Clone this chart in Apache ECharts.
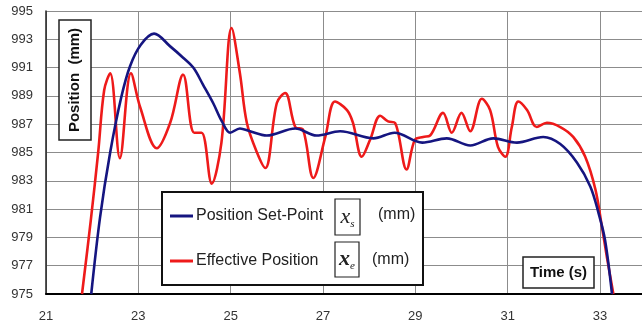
<!DOCTYPE html>
<html>
<head>
<meta charset="utf-8">
<script src="https://cdn.jsdelivr.net/npm/echarts@6/dist/echarts.min.js"></script>
<style>
html,body{margin:0;padding:0;background:#fff;}
#c{width:642px;height:326px;}
</style>
</head>
<body>
<div id="c"></div>
<script>
// Time (s) and position (mm) values
const setTime = [21.98,22.17,22.39,22.63,22.82,23.05,23.34,23.69,23.97,24.19,24.40,24.62,24.81,24.99,25.20,25.42,25.78,26.40,26.86,27.37,28.09,28.55,29.15,29.68,30.19,30.69,31.20,31.77,32.14,32.50,32.79,32.97,33.11,33.26];
const setPos  = [975,980.4,985.0,988.9,991.1,992.6,993.4,992.5,991.7,991.0,989.8,988.5,987.2,986.4,986.7,986.5,986.2,986.7,986.2,986.5,986.0,986.4,985.7,986.0,985.5,986.0,985.7,986.1,985.6,984.3,982.6,980.7,978.8,975];
const effTime = [21.78,21.97,22.13,22.26,22.39,22.60,22.84,23.04,23.40,23.69,23.97,24.21,24.37,24.59,24.80,25.02,25.20,25.35,25.57,25.75,26.00,26.18,26.40,26.57,26.79,27.05,27.26,27.52,27.65,27.84,28.02,28.24,28.41,28.56,28.81,28.99,29.17,29.32,29.60,29.79,30.00,30.19,30.44,30.62,30.79,30.95,31.09,31.23,31.42,31.63,31.85,32.14,32.42,32.68,32.90,33.04,33.15,33.29];
const effPos  = [975,980.2,985.0,989.4,990.6,984.6,990.6,988.2,985.3,987.1,990.5,986.4,986.4,982.8,985.7,993.8,990.6,987.1,985.0,983.9,988.5,989.2,986.8,986.6,983.2,986.1,988.6,988.0,987.1,984.7,985.9,987.6,987.2,987.1,983.8,985.9,986.1,986.2,987.8,986.4,987.8,986.5,988.8,988.0,985.4,984.7,986.8,988.6,988.0,986.8,987.1,986.8,986.1,984.7,982.4,979.8,977.6,975];
const seriesNames = ['Position Set-Point', 'Effective Position'];
const xTitle = 'Time (s)';
const yTitle = 'Position  (mm)';
const unitText = '(mm)';

const zip = (a, b) => a.map((v, i) => [v, b[i]]);
const chart = echarts.init(document.getElementById('c'), null, {renderer: 'canvas'});
const font = "'Liberation Sans', Arial, sans-serif";
chart.setOption({
  animation: false,
  grid: {left: 46, top: 11, right: 0, bottom: 32, containLabel: false},
  xAxis: {
    type: 'value', min: 21, max: 33.91, interval: 2,
    axisLine: {show: true, lineStyle: {color: '#000', width: 2}},
    axisTick: {show: false},
    axisLabel: {color: '#333', fontSize: 13, fontFamily: font, margin: 16, showMaxLabel: false},
    splitLine: {show: true, lineStyle: {color: '#8c8c8c', width: 1}}
  },
  yAxis: {
    type: 'value', min: 975, max: 995, interval: 2,
    axisLine: {show: true, lineStyle: {color: '#222', width: 1.5}},
    axisTick: {show: false},
    axisLabel: {color: '#333', fontSize: 13, fontFamily: font, margin: 13},
    splitLine: {show: true, lineStyle: {color: '#8c8c8c', width: 1}}
  },
  legend: {
    show: true, orient: 'vertical', left: 170, top: 208, z: 30, padding: 0,
    itemWidth: 23, itemHeight: 3, itemGap: 29, icon: 'rect',
    textStyle: {fontSize: 16, fontFamily: font, color: '#222', padding: [0,0,0,-2]},
    data: seriesNames
  },
  series: [
    {name: seriesNames[0], type: 'line', data: zip(setTime, setPos), smooth: 0.35, showSymbol: false,
     lineStyle: {color: '#151580', width: 2.6}, itemStyle: {color: '#151580'}, z: 3},
    {name: seriesNames[1], type: 'line', data: zip(effTime, effPos), smooth: 0.35, showSymbol: false,
     lineStyle: {color: '#ee1a1a', width: 2.6}, itemStyle: {color: '#ee1a1a'}, z: 2}
  ],
  graphic: [
    {type: 'rect', z: 10, shape: {x: 59, y: 20, width: 32, height: 120},
     style: {fill: '#fff', stroke: '#222', lineWidth: 1.5}},
    {type: 'text', z: 11, x: 75, y: 80, rotation: Math.PI / 2,
     style: {text: yTitle, fontSize: 15, fontWeight: 'bold', fontFamily: font, fill: '#111',
             align: 'center', verticalAlign: 'middle'}},
    {type: 'rect', z: 10, shape: {x: 523, y: 257, width: 71, height: 31},
     style: {fill: '#fff', stroke: '#222', lineWidth: 1.5}},
    {type: 'text', z: 11, x: 558.5, y: 272.5,
     style: {text: xTitle, fontSize: 15, fontWeight: 'bold', fontFamily: font, fill: '#111',
             align: 'center', verticalAlign: 'middle'}},
    {type: 'rect', z: 5, shape: {x: 162, y: 192, width: 261, height: 93},
     style: {fill: '#fff', stroke: '#111', lineWidth: 2}},
    {type: 'rect', z: 11, shape: {x: 335, y: 199, width: 25, height: 36},
     style: {fill: '#fff', stroke: '#222', lineWidth: 1.2}},
    {type: 'text', z: 12, x: 347.5, y: 217,
     style: {text: '{a|x}{b|s}', align: 'center', verticalAlign: 'middle',
       rich: {a: {fontFamily: "'Liberation Serif', serif", fontStyle: 'italic', fontSize: 22, fill: '#222'},
              b: {fontFamily: "'Liberation Serif', serif", fontStyle: 'italic', fontSize: 11, fill: '#222', padding: [14,0,0,0]}}}},
    {type: 'rect', z: 11, shape: {x: 335, y: 242, width: 24, height: 35},
     style: {fill: '#fff', stroke: '#222', lineWidth: 1.2}},
    {type: 'text', z: 12, x: 347, y: 259.5,
     style: {text: '{a|x}{b|e}', align: 'center', verticalAlign: 'middle',
       rich: {a: {fontFamily: "'Liberation Serif', serif", fontStyle: 'italic', fontWeight: 'bold', fontSize: 22, fill: '#222'},
              b: {fontFamily: "'Liberation Serif', serif", fontStyle: 'italic', fontSize: 11, fill: '#222', padding: [14,0,0,0]}}}},
    {type: 'text', z: 12, x: 378, y: 215,
     style: {text: unitText, fontSize: 16, fontFamily: font, fill: '#222', verticalAlign: 'middle'}},
    {type: 'text', z: 12, x: 372, y: 260,
     style: {text: unitText, fontSize: 16, fontFamily: font, fill: '#222', verticalAlign: 'middle'}}
  ]
});
</script>
</body>
</html>
